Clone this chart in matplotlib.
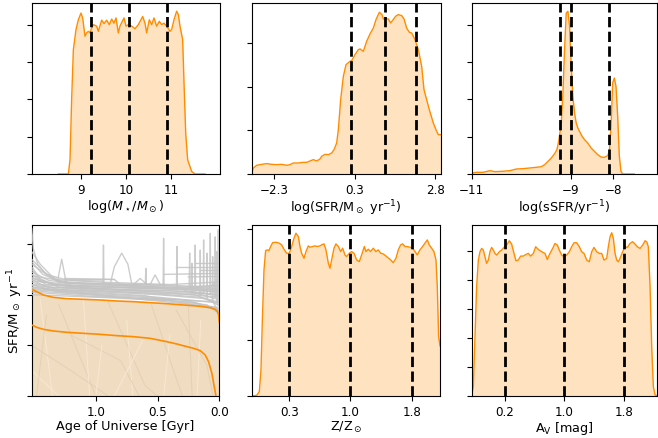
import matplotlib
matplotlib.use("Agg")
import matplotlib.pyplot as plt

plt.rcParams['font.family'] = ['DejaVu Sans']
plt.rcParams['font.size'] = 9.2
plt.rcParams['xtick.labelsize'] = 8.6
plt.rcParams['ytick.labelsize'] = 8.6

ORANGE = 'darkorange'

# ---------------- Panel A: stellar mass ----------------
mass_x = [8.505, 8.727, 8.764, 8.80, 8.838, 8.897, 8.948, 9.007, 9.044, 9.096, 9.133, 9.17, 9.207,
          9.229, 9.281, 9.354, 9.391, 9.465, 9.517, 9.576, 9.635, 9.687, 9.738, 9.783, 9.834, 9.871,
          9.96, 10.004, 10.056, 10.13, 10.203, 10.277, 10.373, 10.425, 10.462, 10.521, 10.573, 10.624,
          10.683, 10.742, 10.794, 10.846, 10.905, 10.979, 11.015, 11.067, 11.126, 11.163, 11.2, 11.259,
          11.289, 11.326, 11.37, 11.458, 11.532, 11.754]
mass_y = [0, 0, 0.38, 1.99, 3.33, 3.87, 4.13, 4.31, 4.18, 3.69, 3.78, 3.82, 3.78,
          3.87, 4.0, 3.96, 3.82, 4.12, 4.03, 4.12, 4.0, 4.15, 4.04, 4.18, 3.78, 3.96,
          4.18, 3.96, 4.0, 3.96, 3.89, 4.0, 4.22, 4.04, 3.78, 4.13, 4.0, 4.18,
          3.96, 4.09, 4.0, 4.04, 3.96, 3.82, 3.87, 4.13, 4.36, 4.27, 3.96, 3.6,
          2.44, 1.1, 0.38, 0.07, 0, 0]
mass_pct = [9.23, 10.07, 10.92]
mass_ticks = [9, 10, 11]
mass_ticklabels = ['9', '10', '11']

# ---------------- Panel B: SFR ----------------
sfr_x = [-3.006, -2.953, -2.848, -2.69, -2.532, -2.374, -2.216, -2.058, -1.9, -1.794, -1.689, -1.531,
         -1.373, -1.267, -1.162, -1.057, -0.951, -0.846, -0.793, -0.688, -0.582, -0.477, -0.403, -0.319,
         -0.266, -0.193, -0.108, -0.024, 0.103, 0.155, 0.261, 0.366, 0.419, 0.524, 0.629, 0.735, 0.84,
         0.924, 1.03, 1.114, 1.156, 1.241, 1.314, 1.388, 1.451, 1.546, 1.630, 1.736, 1.810, 1.894, 1.978,
         2.052, 2.157, 2.263, 2.368, 2.442, 2.526, 2.610, 2.737, 2.821, 2.895, 2.969]
sfr_y = [0.023, 0.138, 0.2, 0.222, 0.238, 0.222, 0.215, 0.222, 0.2, 0.215, 0.253, 0.253,
         0.268, 0.268, 0.299, 0.33, 0.299, 0.345, 0.406, 0.452, 0.444, 0.483, 0.559, 0.713,
         1.019, 1.709, 2.245, 2.513, 2.59, 2.605, 2.743, 2.858, 2.874, 2.82, 3.05, 3.218, 3.356,
         3.548, 3.716, 3.663, 3.563, 3.563, 3.563, 3.471, 3.533, 3.625, 3.663, 3.64, 3.563, 3.356,
         3.257, 3.241, 3.088, 2.858, 2.475, 1.939, 1.709, 1.479, 1.172, 1.019, 0.904, 0.904]
sfr_pct = [0.134, 1.209, 2.189]
sfr_ticks = [-2.3, 0.26, 2.8]
sfr_ticklabels = ['\u22122.3', '0.3', '2.8']

# ---------------- Panel C: sSFR ----------------
ssfr_x = [-11.31, -11.194, -11.039, -10.884, -10.767, -10.612, -10.419, -10.264, -10.109, -9.953,
          -9.798, -9.682, -9.605, -9.527, -9.45, -9.372, -9.318, -9.271, -9.217, -9.178, -9.14,
          -9.101, -9.062, -9.023, -8.984, -8.946, -8.907, -8.868, -8.829, -8.791, -8.729, -8.674,
          -8.597, -8.519, -8.442, -8.364, -8.287, -8.209, -8.132, -8.093, -8.054, -8.016, -7.977,
          -7.938, -7.899, -7.86, -7.822, -7.783, -7.705, -7.512]
ssfr_y = [0.027, 0.045, 0.045, 0.089, 0.0625, 0.071, 0.089, 0.134, 0.143, 0.161,
          0.179, 0.196, 0.25, 0.339, 0.429, 0.545, 0.652, 0.92, 1.366, 2.17, 3.33,
          4.31, 4.357, 3.955, 2.884, 2.08, 1.634, 1.366, 1.232, 1.143, 1.009, 0.92,
          0.83, 0.696, 0.607, 0.518, 0.455, 0.446, 0.491, 0.607, 1.277, 2.438, 2.571,
          2.348, 1.545, 0.473, 0.071, 0, 0, 0]
ssfr_pct = [-9.24, -8.984, -8.109]
ssfr_ticks = [-11.31, -9, -8]
ssfr_ticklabels = ['\u221211', '\u22129', '\u22128']

# ---------------- Panel D: star-formation histories ----------------
age_upper = [1.519, 1.478, 1.424, 1.343, 1.235, 1.1, 0.965, 0.83, 0.695, 0.56, 0.424, 0.289,
             0.154, 0.073, 0.033, 0.014, 0.0057, 0.0]
sfh_upper = [2.105, 2.059, 1.993, 1.947, 1.921, 1.908, 1.895, 1.875, 1.862, 1.842, 1.822, 1.796,
             1.77, 1.743, 1.711, 1.664, 1.599, 1.45]
age_lower = [1.519, 1.478, 1.424, 1.343, 1.235, 1.1, 0.965, 0.83, 0.695, 0.56, 0.424, 0.343,
             0.262, 0.208, 0.154, 0.114, 0.087, 0.06, 0.041, 0.027]
sfh_lower = [1.401, 1.355, 1.316, 1.283, 1.257, 1.237, 1.217, 1.191, 1.171, 1.138, 1.072, 1.026,
             0.974, 0.941, 0.895, 0.809, 0.678, 0.447, 0.184, 0.0]

gray_tracks = [
    [(1.519, 3.3), (1.505, 2.9), (1.47, 2.6), (1.4, 2.4), (1.3, 2.25), (0.7, 2.2), (0.0, 2.12)],
    [(1.519, 2.85), (1.45, 2.6), (1.35, 2.35), (1.25, 2.22), (0.6, 2.2), (0.0, 2.15)],
    [(1.519, 2.7), (1.42, 2.45), (1.3, 2.25), (0.8, 2.18), (0.0, 2.1)],
    [(1.519, 2.6), (1.4, 2.4), (1.25, 2.3), (0.85, 2.3), (0.8, 2.2), (0.0, 2.05)],
    [(1.519, 2.5), (1.45, 2.3), (1.3, 2.15), (0.0, 2.0)],
    [(1.519, 2.4), (1.35, 2.2), (0.3, 2.1), (0.0, 1.9)],
    [(1.519, 2.3), (1.4, 2.15), (0.5, 2.05), (0.0, 1.95)],
    [(1.519, 2.25), (1.3, 2.1), (0.2, 2.0), (0.0, 1.8)],
    [(1.519, 2.2), (1.3, 2.05), (0.0, 1.85)],
    [(1.519, 2.15), (1.0, 2.0), (0.0, 1.75)],
    [(1.519, 2.12), (0.6, 1.98), (0.0, 1.7)],
    [(1.519, 2.1), (0.5, 1.95), (0.05, 1.85), (0.0, 1.65)],
    [(1.519, 2.35), (1.4, 2.2), (1.0, 2.12), (0.4, 2.08), (0.0, 2.0)],
    [(1.519, 2.2), (0.9, 2.15), (0.3, 2.1), (0.0, 2.2)],
    [(1.519, 2.45), (1.38, 2.28), (1.1, 2.2), (0.5, 2.15), (0.0, 2.08)],
    [(1.519, 2.05), (1.0, 1.96), (0.3, 1.9), (0.0, 1.72)],
    [(1.519, 2.55), (1.46, 2.35), (1.2, 2.24), (0.7, 2.17), (0.1, 2.1), (0.0, 2.3)],
    [(1.519, 2.18), (1.1, 2.1), (0.6, 2.03), (0.15, 1.95), (0.0, 1.85)],
    [(1.519, 2.28), (1.2, 2.16), (0.8, 2.1), (0.2, 2.06), (0.0, 1.98)],
    [(1.519, 2.08), (1.2, 2.02), (0.7, 1.93), (0.2, 1.85), (0.0, 1.68)],
    [(1.519, 2.65), (1.43, 2.4), (1.33, 2.3), (1.0, 2.25), (0.4, 2.2), (0.0, 2.25)],
    [(1.519, 2.0), (0.9, 1.94), (0.4, 1.88), (0.1, 1.8), (0.0, 1.62)],
    [(1.519, 2.32), (1.3, 2.19), (0.9, 2.14), (0.3, 2.12), (0.0, 2.05)],
    [(1.519, 2.4), (1.44, 2.26), (1.15, 2.18), (0.55, 2.12), (0.0, 2.18)],
    [(1.519, 2.14), (1.0, 2.06), (0.5, 2.0), (0.1, 1.92), (0.0, 1.78)],
    [(1.25, 2.32), (0.85, 2.3)],
    [(1.2, 2.28), (0.95, 2.27)],
    [(0.2, 2.62), (0.0, 2.62)],
    [(0.35, 2.55), (0.0, 2.55)],
    [(0.15, 2.48), (0.0, 2.48)],
    [(0.45, 2.4), (0.0, 2.42)],
    [(0.25, 2.35), (0.0, 2.36)],
    [(0.884, 2.2), (0.85, 2.55), (0.79, 2.82), (0.74, 2.6), (0.708, 2.2)],
    [(0.695, 2.2), (0.64, 2.32), (0.587, 2.2)],
    [(0.56, 2.2), (0.52, 2.39), (0.478, 2.2)],
]
# spikes: (age, peak, base, half width)
spike_age = [1.276, 0.938, 0.595, 0.451, 0.343, 0.24, 0.222, 0.195, 0.154, 0.127, 0.1, 0.073,
             0.054, 0.033, 0.019, 0.008]
spike_peak = [2.70, 2.98, 2.52, 3.11, 2.95, 2.82, 2.62, 2.98, 2.88, 3.08, 2.82, 3.21,
              2.75, 3.14, 2.85, 3.28]
spike_base = [2.25, 2.2, 2.2, 2.15, 2.1, 2.1, 2.05, 2.1, 2.0, 2.05, 1.95, 2.0,
              1.9, 1.95, 1.85, 1.8]
spike_half = [0.035, 0.004, 0.004, 0.004, 0.004, 0.004, 0.003, 0.003, 0.003, 0.003, 0.003, 0.003,
              0.003, 0.002, 0.002, 0.002]
beige_streaks = [
    [(1.45, 1.9), (1.35, 0.0)], [(1.3, 1.8), (1.0, 0.0)], [(1.1, 1.9), (1.05, 0.0)],
    [(0.9, 1.85), (0.6, 0.2), (0.5, 0.0)], [(0.75, 1.5), (0.7, 0.0)], [(0.55, 1.8), (0.3, 0.0)],
    [(0.4, 1.2), (0.45, 0.0)], [(0.25, 1.75), (0.22, 0.0)], [(0.15, 1.5), (0.18, 0.0)],
    [(1.519, 1.0), (1.2, 0.5), (0.9, 0.0)], [(1.519, 0.5), (1.3, 0.0)],
    [(1.2, 1.2), (0.8, 0.7), (0.65, 0.0)], [(0.95, 1.0), (1.0, 0.0)], [(1.4, 1.6), (1.48, 0.0)],
    [(0.62, 1.1), (0.85, 0.0)], [(0.35, 1.7), (0.1, 0.6), (0.05, 0.0)],
]
age_ticks = [1.0, 0.5, 0.0]
age_ticklabels = ['1.0', '0.5', '0.0']

# ---------------- Panel E: metallicity ----------------
z_x = [-0.159, -0.098, -0.066, -0.046, -0.029, -0.009, 0.011, 0.032, 0.052, 0.072, 0.097, 0.137, 0.178,
       0.207, 0.227, 0.267, 0.3, 0.328, 0.357, 0.381, 0.41, 0.43, 0.45, 0.479, 0.503, 0.532, 0.552,
       0.585, 0.613, 0.641, 0.674, 0.694, 0.723, 0.747, 0.776, 0.796, 0.816, 0.845, 0.869, 0.898,
       0.926, 0.95, 0.979, 0.999, 1.032, 1.06, 1.089, 1.121, 1.154, 1.182, 1.215, 1.235, 1.263,
       1.292, 1.324, 1.357, 1.385, 1.414, 1.446, 1.487, 1.528, 1.568, 1.601, 1.629, 1.658, 1.682,
       1.711, 1.739, 1.772, 1.804, 1.833, 1.861, 1.893, 1.926, 1.954, 1.983, 2.007, 2.036, 2.064,
       2.089, 2.105, 2.121, 2.138]
z_y = [0, 0.012, 0.078, 0.467, 1.365, 2.263, 2.611, 2.623, 2.611, 2.683, 2.754, 2.76, 2.743,
       2.713, 2.653, 2.563, 2.563, 2.683, 2.832, 2.922, 2.862, 2.683, 2.563, 2.473, 2.593, 2.695, 2.671,
       2.683, 2.695, 2.683, 2.695, 2.713, 2.731, 2.623, 2.383, 2.293, 2.443, 2.653, 2.731, 2.683,
       2.593, 2.653, 2.533, 2.503, 2.563, 2.593, 2.563, 2.443, 2.413, 2.533, 2.683, 2.593, 2.635,
       2.593, 2.653, 2.593, 2.623, 2.563, 2.551, 2.503, 2.455, 2.395, 2.473, 2.623, 2.713, 2.731,
       2.683, 2.683, 2.671, 2.653, 2.593, 2.533, 2.623, 2.683, 2.743, 2.802, 2.713, 2.653, 2.593,
       2.443, 1.964, 1.066, 0.9]
z_pct = [0.3, 1.04, 1.796]
z_ticklabels = ['0.3', '1.0', '1.8']

# ---------------- Panel F: dust ----------------
av_x = [-0.247, -0.224, -0.202, -0.18, -0.157, -0.135, -0.113, -0.09, -0.068, -0.046, -0.023, -0.001,
        0.021, 0.044, 0.066, 0.088, 0.124, 0.155, 0.187, 0.222, 0.258, 0.289, 0.321, 0.347, 0.379,
        0.41, 0.446, 0.481, 0.513, 0.544, 0.58, 0.611, 0.647, 0.692, 0.736, 0.767, 0.803, 0.839,
        0.87, 0.902, 0.928, 0.96, 0.991, 1.027, 1.062, 1.094, 1.125, 1.161, 1.196, 1.228, 1.259,
        1.295, 1.33, 1.362, 1.393, 1.429, 1.465, 1.496, 1.527, 1.563, 1.585, 1.608, 1.63, 1.652,
        1.675, 1.697, 1.719, 1.742, 1.777, 1.809, 1.84, 1.876, 1.911, 1.943, 1.974, 2.01, 2.045,
        2.077, 2.099, 2.121, 2.144, 2.166, 2.188, 2.211, 2.255]
av_y = [0, 0.321, 2.039, 3.757, 4.674, 4.96, 5.074, 5.017, 4.788, 4.559, 4.674, 4.96,
        5.109, 5.017, 4.903, 4.845, 4.96, 5.017, 5.109, 5.189, 5.338, 5.223, 4.903, 4.651, 4.674,
        4.811, 4.811, 4.868, 4.903, 4.811, 4.903, 5.132, 5.04, 4.96, 4.903, 4.696, 4.903, 5.074,
        5.246, 5.189, 5.017, 4.845, 4.788, 4.845, 4.96, 5.132, 5.269, 5.269, 5.132, 4.96, 4.903,
        4.674, 4.616, 4.96, 5.109, 4.96, 4.903, 4.903, 4.674, 4.731, 5.132, 5.475, 5.613, 5.418,
        4.903, 4.674, 4.616, 4.731, 4.96, 5.132, 5.109, 5.246, 5.304, 5.223, 5.132, 5.074, 5.189,
        5.338, 5.304, 5.132, 3.757, 1.695, 0.321, 0.034, 0]
av_pct = [0.2, 0.995, 1.80]
av_ticklabels = ['0.2', '1.0', '1.8']

W, H = 658, 438
fig = plt.figure(figsize=(W / 100, H / 100), dpi=100)


def ax_at(l, r, t, b):
    return fig.add_axes([l / W, 1 - b / H, (r - l) / W, (b - t) / H])


def kde_panel(ax, x, y, pct, xlim, ylim_top, yticks, xticks, xticklabels, xlabel):
    ax.fill_between(x, 0, y, color=ORANGE, alpha=0.25, lw=0)
    ax.plot(x, y, color=ORANGE, lw=1)
    for p in pct:
        ax.axvline(p, color='k', ls='--', lw=2)
    ax.set_xlim(*xlim)
    ax.set_ylim(0, ylim_top)
    ax.set_yticks(yticks)
    ax.set_yticklabels([])
    ax.set_xticks(xticks)
    ax.set_xticklabels(xticklabels)
    ax.set_xlabel(xlabel, labelpad=1)


axA = ax_at(32, 220, 3, 174)
kde_panel(axA, mass_x, mass_y, mass_pct, (7.922, 12.086), 4.58, [0, 1, 2, 3, 4],
          mass_ticks, mass_ticklabels, r'$\log(M_\star/M_\odot)$')

axB = ax_at(251.7, 440.7, 3, 174)
kde_panel(axB, sfr_x, sfr_y, sfr_pct, (-3.006, 2.97), 3.93, [0, 1, 2, 3],
          sfr_ticks, sfr_ticklabels, r'log(SFR/M$_\odot$ yr$^{-1}$)')

axC = ax_at(471.7, 657, 3, 174)
kde_panel(axC, ssfr_x, ssfr_y, ssfr_pct, (-11.31, -6.98), 4.58, [0, 1, 2, 3, 4],
          ssfr_ticks, ssfr_ticklabels, r'log(sSFR/yr$^{-1}$)')

axE = ax_at(251.7, 440, 225, 396)
kde_panel(axE, z_x, z_y, z_pct, (-0.159, 2.138), 3.07, [0, 1, 2, 3],
          z_pct, z_ticklabels, r'Z/Z$_\odot$')

axF = ax_at(471.7, 657, 225, 396)
kde_panel(axF, av_x, av_y, av_pct, (-0.246, 2.237), 5.88, [0, 1, 2, 3, 4, 5],
          av_pct, av_ticklabels, r'A$_{\rm V}$ [mag]')

# Panel D
axD = ax_at(31.7, 219.3, 225, 396)
axD.fill_between(age_upper, 0, sfh_upper, color='#f0dcc1', lw=0, zorder=1)
for k, tr in enumerate(beige_streaks):
    xs = [p[0] for p in tr]
    ys = [p[1] for p in tr]
    axD.plot(xs, ys, color='#f8e8d2' if k % 2 == 0 else '#e4d0b5', lw=0.7, zorder=2)
for tr in gray_tracks:
    xs = [p[0] for p in tr]
    ys = [p[1] for p in tr]
    axD.plot(xs, ys, color='#c4c4c4', lw=1, alpha=0.85, zorder=3)
for a, pk, bs, hw in zip(spike_age, spike_peak, spike_base, spike_half):
    axD.plot([a + hw, a, a - hw], [bs, pk, bs], color='#c4c4c4', lw=1, alpha=0.85, zorder=3)
axD.plot(age_upper, sfh_upper, color=ORANGE, lw=1.2, zorder=4)
axD.plot(age_lower, sfh_lower, color=ORANGE, lw=1.2, zorder=4)
axD.set_xlim(1.519, 0.0)
axD.set_ylim(0, 3.375)
axD.set_yticks([0, 1, 2, 3])
axD.set_yticklabels([])
axD.set_xticks(age_ticks)
axD.set_xticklabels(age_ticklabels)
axD.set_xlabel('Age of Universe [Gyr]', labelpad=1)
axD.set_ylabel(r'SFR/M$_\odot$ yr$^{-1}$', fontsize=9.6)
axD.yaxis.set_label_coords(-7.0 / 187.6, 0.5)

fig.savefig('out.png', dpi=100)
